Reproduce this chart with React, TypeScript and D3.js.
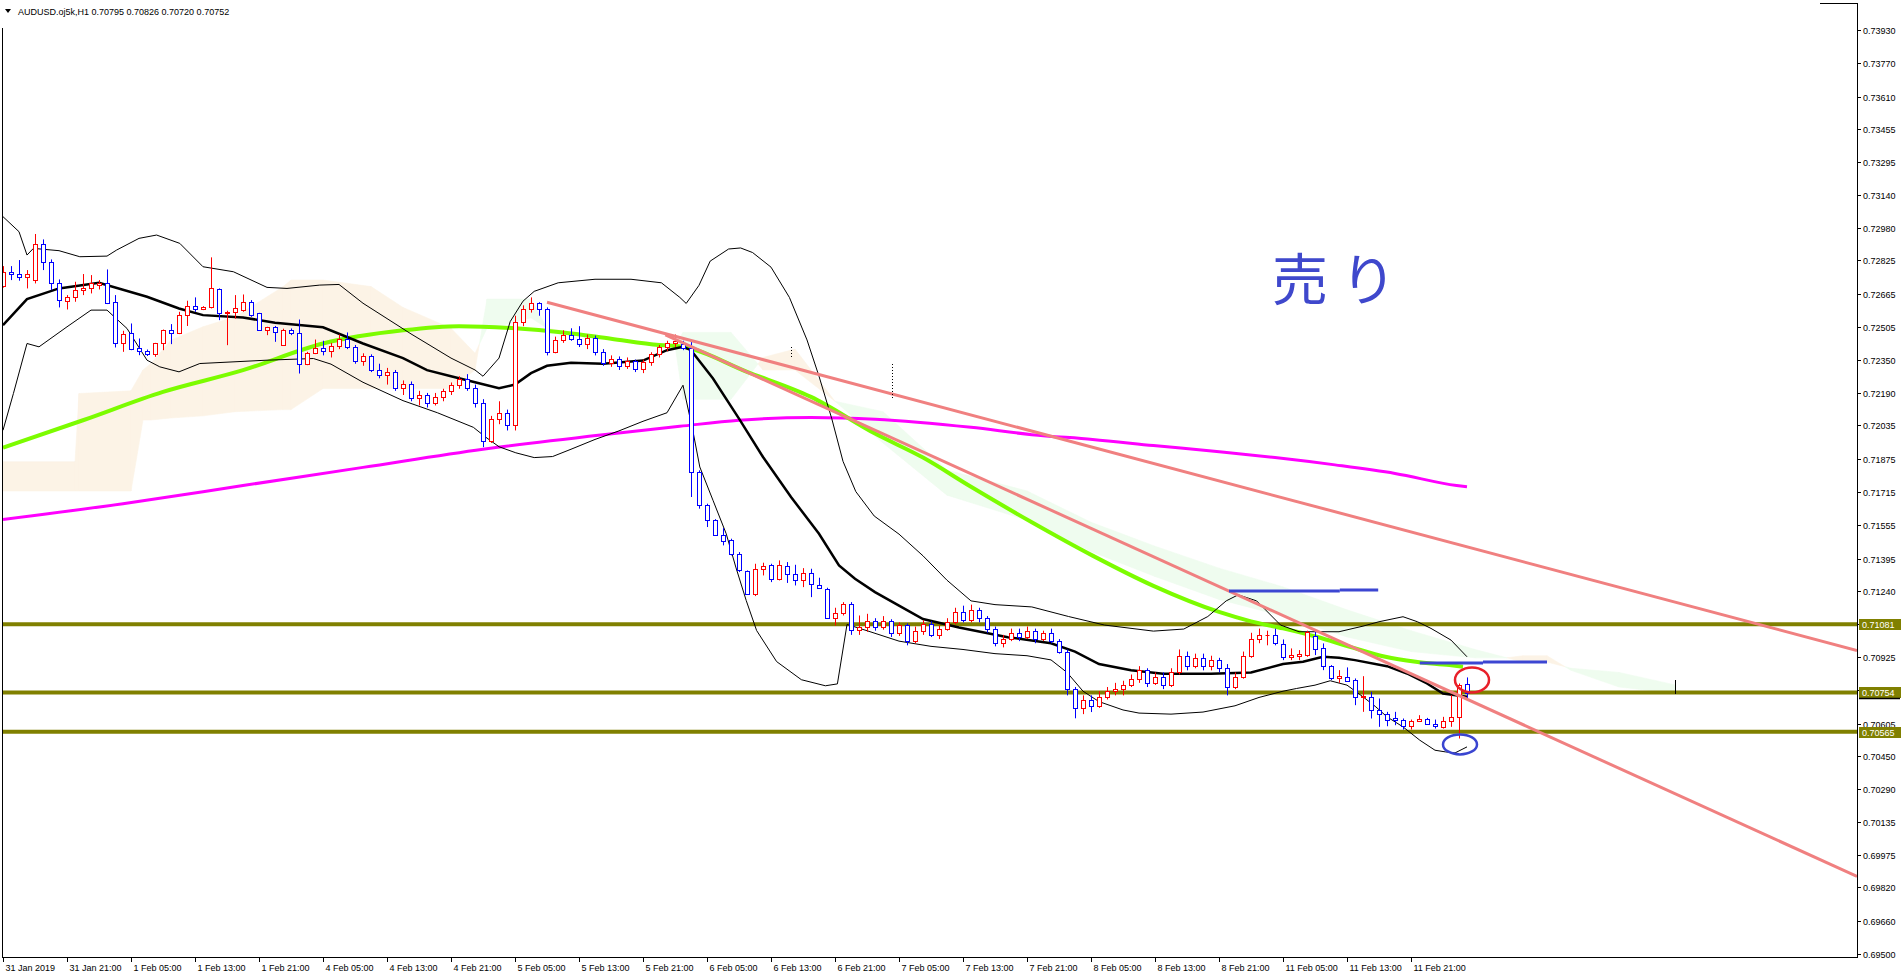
import React from 'react';
import * as d3 from 'd3';

// AUDUSD H1 candles, bar 0 = 31 Jan 13:00
const opens = [
  0.72702, 0.72769, 0.7276, 0.72747, 0.72731, 0.72904, 0.72819, 0.72719, 0.72629, 0.72648,
  0.72683, 0.72691, 0.72707, 0.72719, 0.72624, 0.7243, 0.72475, 0.72403, 0.7239, 0.72379,
  0.72427, 0.72491, 0.72478, 0.72563, 0.72609, 0.72593, 0.726, 0.72688, 0.72575, 0.72576,
  0.72587, 0.72625, 0.72571, 0.72494, 0.72504, 0.72422, 0.72494, 0.72475, 0.72331, 0.72382,
  0.72403, 0.7239, 0.72415, 0.7245, 0.7241, 0.72345, 0.72365, 0.723, 0.72275, 0.7229,
  0.72215, 0.72235, 0.72165, 0.7218, 0.7214, 0.7217, 0.722, 0.7223, 0.72255, 0.72215,
  0.7214, 0.7196, 0.72066, 0.72095, 0.72037, 0.72532, 0.7259, 0.72619, 0.7259, 0.72386,
  0.72444, 0.7247, 0.7245, 0.72425, 0.72455, 0.72385, 0.72335, 0.72355, 0.7232, 0.72345,
  0.72305, 0.7234, 0.72375, 0.7241, 0.7243, 0.72424, 0.72403, 0.71811, 0.71651, 0.71579,
  0.7151, 0.71483, 0.71419, 0.71336, 0.71224, 0.71347, 0.71363, 0.71296, 0.7136, 0.71323,
  0.71294, 0.71328, 0.7127, 0.71251, 0.71112, 0.71136, 0.71179, 0.71051, 0.71067, 0.71096,
  0.7107, 0.71095, 0.7104, 0.71075, 0.71, 0.7105, 0.7108, 0.7103, 0.7106, 0.7109,
  0.7114, 0.711, 0.7115, 0.7111, 0.7106, 0.7099, 0.7101, 0.7104, 0.7102, 0.7105,
  0.7101, 0.7104, 0.71, 0.7095, 0.7077, 0.7068, 0.7072, 0.7069, 0.7073, 0.7076,
  0.7077, 0.7079, 0.7082, 0.7086, 0.708, 0.7083, 0.7079, 0.7085, 0.7093, 0.7088,
  0.7092, 0.7088, 0.7091, 0.7087, 0.7078, 0.7083, 0.7093, 0.7101, 0.7103, 0.7103,
  0.70984, 0.70922, 0.7093, 0.70935, 0.71024, 0.70965, 0.7088, 0.70821, 0.70829, 0.70813,
  0.70733, 0.70733, 0.70672, 0.70653, 0.7063, 0.70624, 0.70594, 0.70618, 0.70629, 0.70605,
  0.70589, 0.70618, 0.70634, 0.70795,
];
const highs = [
  0.72798, 0.72798, 0.72827, 0.72779, 0.72952, 0.72926, 0.7283, 0.72734, 0.72659, 0.72723,
  0.7276, 0.72755, 0.72731, 0.72782, 0.72659, 0.72488, 0.72523, 0.72451, 0.72398, 0.7243,
  0.72494, 0.7252, 0.72579, 0.72632, 0.72648, 0.72606, 0.7284, 0.72691, 0.72584, 0.72659,
  0.72662, 0.72635, 0.72574, 0.72507, 0.72511, 0.72498, 0.72499, 0.72542, 0.72387, 0.72446,
  0.7244, 0.7243, 0.7247, 0.7248, 0.7242, 0.7238, 0.72375, 0.7233, 0.7231, 0.723,
  0.7225, 0.72245, 0.722, 0.7219, 0.7219, 0.7221, 0.7224, 0.7227, 0.7228, 0.7223,
  0.7216, 0.7208, 0.7215, 0.7211, 0.7256, 0.7261, 0.72648, 0.72625, 0.726, 0.7246,
  0.7249, 0.725, 0.7251, 0.7247, 0.72465, 0.724, 0.7237, 0.72365, 0.7236, 0.7235,
  0.7235, 0.72385, 0.7242, 0.7244, 0.7247, 0.7244, 0.72443, 0.71819, 0.71659, 0.71585,
  0.71542, 0.71491, 0.71427, 0.71339, 0.71371, 0.71376, 0.71371, 0.71387, 0.71379, 0.71366,
  0.7135, 0.71347, 0.71304, 0.71256, 0.7116, 0.71187, 0.71187, 0.71123, 0.71131, 0.7111,
  0.7112, 0.71105, 0.7109, 0.71085, 0.7107, 0.711, 0.71095, 0.71075, 0.7111, 0.7116,
  0.7117, 0.71175, 0.7116, 0.7112, 0.7107, 0.7103, 0.7106, 0.7106, 0.7107, 0.7106,
  0.7105, 0.7106, 0.7101, 0.7096, 0.7078, 0.7074, 0.7074, 0.7076, 0.7078, 0.708,
  0.7081, 0.7084, 0.7088, 0.7087, 0.7085, 0.7085, 0.7087, 0.7096, 0.7095, 0.7094,
  0.7094, 0.7093, 0.7092, 0.7089, 0.7085, 0.7095, 0.7104, 0.7106, 0.7105, 0.7106,
  0.71008, 0.70965, 0.70957, 0.7105, 0.71045, 0.70989, 0.70885, 0.70861, 0.70874, 0.70821,
  0.70832, 0.70757, 0.70725, 0.70661, 0.70661, 0.70629, 0.70624, 0.70645, 0.70632, 0.70624,
  0.70637, 0.70741, 0.70797, 0.70826,
];
const lows = [
  0.72695, 0.72731, 0.72728, 0.72691, 0.72715, 0.72779, 0.72683, 0.726, 0.7259, 0.72627,
  0.72659, 0.72667, 0.72686, 0.72616, 0.72408, 0.72387, 0.72395, 0.72371, 0.72367, 0.72363,
  0.72395, 0.72424, 0.72472, 0.72511, 0.72579, 0.72587, 0.72595, 0.72539, 0.72419, 0.72546,
  0.72579, 0.72555, 0.72488, 0.72467, 0.72435, 0.72421, 0.72467, 0.72283, 0.72323, 0.72376,
  0.7237, 0.7236, 0.724, 0.724, 0.7233, 0.7232, 0.7229, 0.7226, 0.7223, 0.722,
  0.7218, 0.7215, 0.7213, 0.7212, 0.7213, 0.7215, 0.7218, 0.7221, 0.722, 0.7212,
  0.7193, 0.7195, 0.7204, 0.7201, 0.7201, 0.7251, 0.72575, 0.7256, 0.7237, 0.7238,
  0.7243, 0.7244, 0.7241, 0.724, 0.7237, 0.7232, 0.72315, 0.723, 0.72305, 0.7229,
  0.72285, 0.7232, 0.7236, 0.7239, 0.7241, 0.72395, 0.71691, 0.71635, 0.71547, 0.71507,
  0.71459, 0.71411, 0.71331, 0.71227, 0.71216, 0.71315, 0.71283, 0.71291, 0.71279, 0.71267,
  0.71259, 0.71211, 0.71251, 0.71107, 0.71075, 0.71123, 0.7103, 0.7103, 0.71045, 0.7105,
  0.71055, 0.7102, 0.71025, 0.7098, 0.7099, 0.7103, 0.7102, 0.7101, 0.7105, 0.7108,
  0.7109, 0.7109, 0.7109, 0.7104, 0.70975, 0.7097, 0.71, 0.71, 0.7101, 0.7099,
  0.71, 0.7099, 0.7094, 0.7074, 0.7063, 0.7065, 0.7066, 0.7068, 0.7072, 0.7074,
  0.7074, 0.7078, 0.708, 0.7078, 0.7079, 0.7077, 0.7078, 0.7084, 0.7086, 0.7087,
  0.7086, 0.7086, 0.7085, 0.7074, 0.7077, 0.7082, 0.7092, 0.7099, 0.7098, 0.7098,
  0.70909, 0.70909, 0.70909, 0.70925, 0.70933, 0.70861, 0.70813, 0.708, 0.70805, 0.70693,
  0.70661, 0.70629, 0.70589, 0.70592, 0.70597, 0.70576, 0.70576, 0.70613, 0.70602, 0.70581,
  0.70581, 0.70589, 0.70533, 0.7072,
];
const closes = [
  0.72771, 0.7276, 0.72747, 0.7276, 0.72904, 0.72819, 0.72719, 0.72635, 0.72648, 0.72683,
  0.72694, 0.72715, 0.72715, 0.72622, 0.7243, 0.72472, 0.72401, 0.72392, 0.72379, 0.72427,
  0.72491, 0.72478, 0.72563, 0.72609, 0.72593, 0.726, 0.72691, 0.72575, 0.72577, 0.72595,
  0.72624, 0.72563, 0.72494, 0.72507, 0.7248, 0.72494, 0.72475, 0.72331, 0.72382, 0.72403,
  0.7239, 0.72415, 0.7245, 0.7241, 0.72345, 0.72365, 0.723, 0.72275, 0.7229, 0.72215,
  0.72235, 0.72165, 0.7218, 0.7214, 0.7217, 0.722, 0.7223, 0.72255, 0.72215, 0.7214,
  0.7196, 0.72066, 0.72095, 0.72037, 0.72532, 0.7259, 0.72619, 0.7259, 0.72386, 0.72444,
  0.7247, 0.7245, 0.72425, 0.72455, 0.72385, 0.72335, 0.72355, 0.7232, 0.72345, 0.72305,
  0.7234, 0.72375, 0.7241, 0.7243, 0.7244, 0.72403, 0.71811, 0.71651, 0.71579, 0.7151,
  0.7148, 0.71419, 0.71339, 0.71227, 0.71347, 0.7136, 0.71296, 0.71363, 0.71323, 0.71294,
  0.71326, 0.71272, 0.71256, 0.71112, 0.71136, 0.71179, 0.71051, 0.71067, 0.71096, 0.7107,
  0.71095, 0.7104, 0.71075, 0.71, 0.7105, 0.7108, 0.7103, 0.7106, 0.7109, 0.7114,
  0.711, 0.7115, 0.7111, 0.7106, 0.7099, 0.7101, 0.7104, 0.7102, 0.7105, 0.7101,
  0.7104, 0.71, 0.7095, 0.7077, 0.7068, 0.7072, 0.7069, 0.7073, 0.7076, 0.7077,
  0.7079, 0.7082, 0.7086, 0.708, 0.7083, 0.7079, 0.7085, 0.7093, 0.7088, 0.7092,
  0.7088, 0.7091, 0.7087, 0.7078, 0.7083, 0.7093, 0.7101, 0.7103, 0.7103, 0.7099,
  0.70922, 0.70933, 0.70936, 0.71045, 0.7096, 0.7088, 0.70821, 0.70832, 0.7081, 0.70733,
  0.70735, 0.70669, 0.70653, 0.70624, 0.70621, 0.70594, 0.70619, 0.70629, 0.70605, 0.70592,
  0.70618, 0.70634, 0.70789, 0.70752,
];

// indicator lines: [bar, price]
const bbMid: [number, number][] = [
  [0, 0.72515], [3, 0.7264], [7, 0.72691], [12, 0.72718], [18, 0.72651], [22, 0.72595], [25, 0.72563],
  [30, 0.72552], [34, 0.72526], [40, 0.72505], [45, 0.72427], [50, 0.72357], [53, 0.72299], [56, 0.7227],
  [59, 0.72241], [62, 0.72212], [64, 0.7223], [66, 0.72285], [68, 0.7232], [71, 0.72335], [75, 0.7233],
  [80, 0.72345], [83, 0.72395], [85, 0.72411], [86, 0.72395], [88.75, 0.72259], [92, 0.72067], [95, 0.71883],
  [98.5, 0.71691], [102, 0.71515], [104.5, 0.71363], [106.5, 0.71299], [109, 0.71235], [112, 0.7117],
  [115, 0.71106], [119.5, 0.71065], [125.6, 0.71019], [131, 0.7099], [134, 0.7095], [137, 0.7089],
  [141, 0.7086], [145, 0.70844], [151, 0.70844], [156, 0.7085], [160, 0.7089], [162.5, 0.70901],
  [165, 0.70925], [167, 0.7092], [169, 0.70909], [173, 0.7088], [175.5, 0.70845], [178, 0.70797],
  [180, 0.70749], [181.6, 0.70741], [183, 0.70733],
];
const bbUpper: [number, number][] = [
  [0, 0.73035], [2, 0.72963], [3, 0.72851], [3.8, 0.72883], [7, 0.72872], [9.6, 0.72843], [13, 0.72846],
  [14.2, 0.72875], [17, 0.72931], [19.2, 0.72947], [22.1, 0.72907], [25, 0.72795], [28.8, 0.72771],
  [33, 0.72696], [35.5, 0.72691], [39.6, 0.72707], [42, 0.7271], [45, 0.7262], [51, 0.72473], [56, 0.72357],
  [59, 0.723], [60, 0.7227], [62, 0.72357], [63.4, 0.72532], [65, 0.7263], [66.4, 0.72677], [69.4, 0.72718],
  [74, 0.72735], [78.5, 0.72735], [82.3, 0.72718], [84.6, 0.72648], [85.4, 0.72619], [87, 0.72706],
  [88.4, 0.72822], [90.7, 0.7288], [92.2, 0.72885], [93.7, 0.72863], [96, 0.72793], [98.3, 0.72648],
  [100.5, 0.72444], [102, 0.7227], [103.6, 0.72066], [105, 0.71862], [106.6, 0.71717], [108.9, 0.716],
  [112, 0.71513], [115, 0.71409], [118, 0.71292], [121, 0.71193], [124, 0.71175], [128.6, 0.71164],
  [133.2, 0.71118], [137.7, 0.71077], [143.8, 0.71048], [147.6, 0.71058], [150.6, 0.71118],
  [152.9, 0.71193], [154.4, 0.71222], [156.7, 0.71193], [159.7, 0.71077], [162, 0.71045], [167, 0.71045],
  [170, 0.71072], [172, 0.71093], [175, 0.71117], [176.8, 0.71093], [178.5, 0.71061], [181, 0.71005],
  [183, 0.70925],
];
const bbLower: [number, number][] = [
  [0, 0.72011], [1.3, 0.72187], [3, 0.72427], [4.5, 0.72411], [8, 0.72507], [11, 0.72587], [13, 0.72587],
  [15.5, 0.72499], [18, 0.72347], [19.6, 0.72315], [22, 0.72291], [24.6, 0.72331], [33, 0.72347],
  [38.8, 0.72355], [41, 0.72328], [45, 0.72241], [50, 0.72153], [54.3, 0.72095], [58.8, 0.72025],
  [60.3, 0.71979], [62, 0.71932], [64.1, 0.71903], [66.4, 0.7188], [68.7, 0.71885], [71, 0.7192],
  [74, 0.71967], [77, 0.72008], [80, 0.72054], [83, 0.72095], [85, 0.72227], [86.3, 0.71995],
  [87.1, 0.71835], [88.75, 0.71675], [90.4, 0.71515], [91.6, 0.71355], [92.9, 0.71195], [94.2, 0.71051],
  [96.7, 0.70902], [99.8, 0.70815], [102.8, 0.70786], [104.3, 0.70795], [105.5, 0.7108], [108, 0.7105],
  [112, 0.71], [116, 0.70975], [120, 0.7096], [124, 0.7094], [128, 0.7093], [131, 0.7091], [133, 0.7085],
  [135, 0.7076], [137, 0.7071], [140, 0.7067], [142, 0.70655], [146, 0.7065], [150, 0.7066], [154, 0.7069],
  [157, 0.7073], [160, 0.7076], [161.7, 0.70773], [164, 0.70789], [165.9, 0.7081], [168, 0.70789],
  [170, 0.70733], [171.6, 0.70685], [173, 0.70637], [175, 0.70589], [177.1, 0.70525], [179, 0.70477],
  [180.3, 0.70469], [181.5, 0.70464], [183, 0.70493],
];
const maGreen: [number, number][] = [
  [0, 0.71928], [10, 0.72059], [20, 0.72195], [30, 0.72299], [40, 0.72427], [50, 0.7249], [57, 0.7251],
  [64, 0.725], [70, 0.7248], [76, 0.7245], [82, 0.7242], [85, 0.72411], [93, 0.72291], [101, 0.72171],
  [109, 0.71995], [115, 0.7188], [121, 0.7174], [128.6, 0.7157], [136.2, 0.7141], [143.8, 0.71265],
  [152, 0.7114], [156, 0.71095], [160, 0.71061], [164.2, 0.71021], [168.6, 0.7097], [172.8, 0.70925],
  [176.6, 0.70901], [180.8, 0.70885], [182.5, 0.70877],
];
const maMagenta: [number, number][] = [
  [0, 0.71583], [15, 0.71659], [30, 0.71746], [45, 0.71833], [60, 0.7192], [75, 0.7199], [84.6, 0.7203],
  [92, 0.72059], [101, 0.72072], [109, 0.72064], [121, 0.72025], [128.6, 0.7199], [136.2, 0.71967],
  [143.8, 0.71938], [151.4, 0.7191], [159, 0.7188], [166.5, 0.71845], [174, 0.71804], [181.7, 0.71746],
  [183, 0.7174],
];

// ichimoku cloud, shifted 26 bars forward
const cloudBars = [0, 9, 9.5, 16, 17.5, 18.5, 21, 25, 29, 35, 36, 40, 46, 50, 56, 59, 60.5, 63, 66, 68,
  76, 84, 85, 91, 95, 99, 104, 110, 118, 128, 136, 144, 152, 160, 168, 176, 184, 188, 190, 193, 196, 202, 209];
const spanA = [0.7186, 0.7186, 0.72187, 0.722, 0.723, 0.72331, 0.72443, 0.72507, 0.72555, 0.72699, 0.72731,
  0.72731, 0.727, 0.726, 0.725, 0.7238, 0.725, 0.7252, 0.7255, 0.725, 0.7245, 0.7242, 0.7216, 0.7216, 0.7236,
  0.724, 0.7215, 0.7195, 0.717, 0.7158, 0.7143, 0.7131, 0.712, 0.7112, 0.7102, 0.7095, 0.7092, 0.7092, 0.7093,
  0.7093, 0.7086, 0.7078, 0.7075];
const spanB = [0.7172, 0.7172, 0.7172, 0.7172, 0.7206, 0.7206, 0.7207, 0.7208, 0.721, 0.7211, 0.7211, 0.72211,
  0.72211, 0.72211, 0.72211, 0.723, 0.7264, 0.7264, 0.7264, 0.725, 0.7245, 0.7242, 0.7248, 0.7248, 0.723,
  0.723, 0.7215, 0.721, 0.7182, 0.7172, 0.7157, 0.71455, 0.7135, 0.7126, 0.7115, 0.7105, 0.7096, 0.7092, 0.709,
  0.709, 0.7087, 0.7085, 0.7079];

const priceTicks = ['0.73930', '0.73770', '0.73610', '0.73455', '0.73295', '0.73140', '0.72980', '0.72825',
  '0.72665', '0.72505', '0.72350', '0.72190', '0.72035', '0.71875', '0.71715', '0.71555', '0.71395', '0.71240',
  '0.71080', '0.70925', '0.70765', '0.70605', '0.70450', '0.70290', '0.70135', '0.69975', '0.69820', '0.69660',
  '0.69500'];
const timeLabels = ['31 Jan 2019', '31 Jan 21:00', '1 Feb 05:00', '1 Feb 13:00', '1 Feb 21:00', '4 Feb 05:00',
  '4 Feb 13:00', '4 Feb 21:00', '5 Feb 05:00', '5 Feb 13:00', '5 Feb 21:00', '6 Feb 05:00', '6 Feb 13:00',
  '6 Feb 21:00', '7 Feb 05:00', '7 Feb 13:00', '7 Feb 21:00', '8 Feb 05:00', '8 Feb 13:00', '8 Feb 21:00',
  '11 Feb 05:00', '11 Feb 13:00', '11 Feb 21:00'];

const levels = [0.71081, 0.70754, 0.70565];
const trendLines: [number, number, number, number][] = [
  [68, 0.72625, 231.75, 0.70955],
  [82.8, 0.72468, 231.75, 0.69872],
];
const blueSegments: [number, number, number][] = [
  [153.25, 167.1, 0.7124], [167.1, 171.9, 0.71245],
  [177.1, 185, 0.70895], [185, 193, 0.709],
];

const W = 1903;
const H = 978;
const left = 2;
const right = 1857;
const top = 3;
const bottom = 957;
const font = '"Liberation Sans", Arial, sans-serif';

const App = () => {
  const x = d3.scaleLinear().domain([0, 231.75]).range([3, right]);
  const y = d3.scaleLinear().domain([0.695, 0.7393]).range([954, 30]);
  const line = d3.line<[number, number]>().x((d) => x(d[0])).y((d) => y(d[1]));
  const smooth = d3.line<[number, number]>().x((d) => x(d[0])).y((d) => y(d[1])).curve(d3.curveMonotoneX);

  // cloud polygons, split where the spans cross
  const cloud: { pts: [number, number][]; up: boolean }[] = [];
  for (let k = 0; k < cloudBars.length - 1; k++) {
    const b0 = cloudBars[k], b1 = cloudBars[k + 1];
    const d0 = spanA[k] - spanB[k], d1 = spanA[k + 1] - spanB[k + 1];
    if (d0 * d1 < 0) {
      const t = d0 / (d0 - d1);
      const bm = b0 + (b1 - b0) * t;
      const pm = spanA[k] + (spanA[k + 1] - spanA[k]) * t;
      cloud.push({ pts: [[b0, spanA[k]], [bm, pm], [b0, spanB[k]]], up: d0 > 0 });
      cloud.push({ pts: [[bm, pm], [b1, spanA[k + 1]], [b1, spanB[k + 1]]], up: d1 > 0 });
    } else {
      cloud.push({
        pts: [[b0, spanA[k]], [b1, spanA[k + 1]], [b1, spanB[k + 1]], [b0, spanB[k]]],
        up: d0 + d1 >= 0,
      });
    }
  }

  return (
    <svg width={W} height={H} style={{ position: 'absolute', left: 0, top: 0, display: 'block', background: '#fff' }}>
      <defs>
        <clipPath id="plot">
          <rect x={left} y={top} width={right - left} height={bottom - top} />
        </clipPath>
      </defs>

      <g clipPath="url(#plot)">
        {cloud.map((c, i) => (
          <polygon
            key={'c' + i}
            points={c.pts.map((p) => `${x(p[0])},${y(p[1])}`).join(' ')}
            fill={c.up ? '#FCF3E6' : '#EFFCEF'}
            stroke={c.up ? '#FCF3E6' : '#EFFCEF'}
            strokeWidth={0.6}
          />
        ))}

        {levels.map((p) => (
          <line key={p} x1={0} x2={right} y1={y(p)} y2={y(p)} stroke="#808000" strokeWidth={4} />
        ))}

        <path d={smooth(maMagenta) || ''} fill="none" stroke="#FF00FF" strokeWidth={3} />
        <path d={smooth(maGreen) || ''} fill="none" stroke="#7CFC00" strokeWidth={4} />
        <path d={line(bbUpper) || ''} fill="none" stroke="#000" strokeWidth={1} />
        <path d={line(bbLower) || ''} fill="none" stroke="#000" strokeWidth={1} />
        <path d={line(bbMid) || ''} fill="none" stroke="#000" strokeWidth={2.5} />

        {closes.map((c, i) => {
          const o = opens[i];
          const up = c >= o;
          const col = up ? '#FF0000' : '#0000FF';
          const cx = Math.round(x(i)) + 0.5;
          const yt = Math.round(y(Math.max(o, c))) + 0.5;
          const yb = Math.round(y(Math.min(o, c))) + 0.5;
          return (
            <g key={'k' + i}>
              <line x1={cx} x2={cx} y1={y(highs[i])} y2={y(lows[i])} stroke={col} strokeWidth={1} />
              {yb - yt < 1 ? (
                <line x1={cx - 2} x2={cx + 2} y1={yt} y2={yt} stroke={col} strokeWidth={1} />
              ) : (
                <rect x={cx - 2} y={yt} width={4} height={yb - yt} fill="#fff" stroke={col} strokeWidth={1} />
              )}
            </g>
          );
        })}

        {trendLines.map((t, i) => (
          <line key={'t' + i} x1={x(t[0])} y1={y(t[1])} x2={x(t[2])} y2={y(t[3])} stroke="#F08080" strokeWidth={3} />
        ))}

        {blueSegments.map((s, i) => (
          <line key={'b' + i} x1={x(s[0])} x2={x(s[1])} y1={y(s[2])} y2={y(s[2])} stroke="#3C46D2" strokeWidth={3} />
        ))}

        <line x1={791.5} x2={791.5} y1={347} y2={359} stroke="#000" strokeWidth={1} strokeDasharray="1,2" />
        <line x1={892.5} x2={892.5} y1={364} y2={398} stroke="#000" strokeWidth={1} strokeDasharray="1,2" />
        <line x1={x(209) + 0.5} x2={x(209) + 0.5} y1={680} y2={694} stroke="#000" strokeWidth={1} />

        <ellipse cx={x(183) + 5} cy={y(0.70814)} rx={17} ry={12.5} fill="none" stroke="#E8202A" strokeWidth={2.5} />
        <ellipse cx={x(182) + 1} cy={y(0.70505)} rx={17} ry={10} fill="none" stroke="#3A45D0" strokeWidth={2.5} />

        <text x={1272} y={300} fontFamily='"Noto Sans CJK JP", sans-serif' fontSize={56} fill="#3F48CC">
          売 り
        </text>
      </g>

      {/* frame */}
      <line x1={left + 0.5} x2={left + 0.5} y1={28} y2={bottom} stroke="#000" />
      <line x1={left} x2={right} y1={bottom + 0.5} y2={bottom + 0.5} stroke="#000" />
      <line x1={right + 0.5} x2={right + 0.5} y1={top} y2={bottom + 1} stroke="#000" />
      <line x1={1820} x2={right} y1={top + 0.5} y2={top + 0.5} stroke="#000" />

      {/* title */}
      <path d="M5,9 L11,9 L8,13 Z" fill="#000" />
      <text x={18} y={15} fontFamily={font} fontSize={9} fill="#000">
        AUDUSD.oj5k,H1  0.70795 0.70826 0.70720 0.70752
      </text>

      {/* price axis */}
      {priceTicks.map((t) => {
        const ty = Math.round(y(+t)) + 0.5;
        return (
          <g key={t}>
            <line x1={right} x2={right + 4} y1={ty} y2={ty} stroke="#000" />
            <text x={right + 6} y={ty + 3.5} fontFamily={font} fontSize={9} fill="#000">
              {t}
            </text>
          </g>
        );
      })}
      {levels.map((p) => {
        const ty = Math.round(y(p));
        return (
          <g key={'l' + p}>
            <rect x={right + 2} y={ty - 5} width={42} height={11} fill="#808000" />
            <text x={right + 5} y={ty + 4} fontFamily={font} fontSize={9} fill="#fff">
              {p.toFixed(5)}
            </text>
          </g>
        );
      })}
      <line x1={right + 2} x2={1900} y1={Math.round(y(0.70754)) + 6.5} y2={Math.round(y(0.70754)) + 6.5} stroke="#000" strokeWidth={1.5} />

      {/* time axis */}
      {timeLabels.map((t, i) => {
        const tx = Math.round(x(i * 8)) + 0.5;
        return (
          <g key={t}>
            <line x1={tx} x2={tx} y1={bottom} y2={bottom + 5} stroke="#000" />
            <text x={tx + 2} y={971} fontFamily={font} fontSize={9} fill="#000">
              {t}
            </text>
          </g>
        );
      })}
    </svg>
  );
};

export default App;
